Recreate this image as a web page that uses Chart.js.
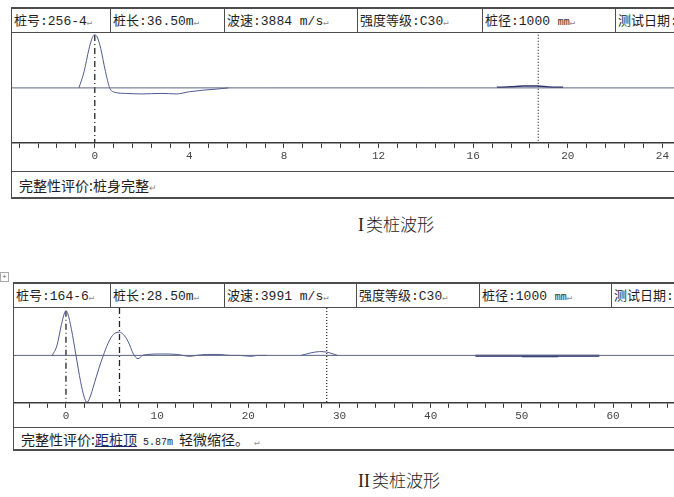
<!DOCTYPE html>
<html>
<head>
<meta charset="utf-8">
<script src="https://cdn.jsdelivr.net/npm/chart.js@4/dist/chart.umd.min.js"></script>
<style>
  html, body { margin: 0; padding: 0; background: #fff; }
  body { width: 674px; height: 497px; position: relative; overflow: hidden;
         font-family: "Liberation Mono", "Noto Sans CJK SC", monospace; color: #1e1e1e; }
  .h { position: absolute; background: #4d4d4d; height: 1px; }
  .v { position: absolute; background: #4d4d4d; width: 1px; }
  .cell { position: absolute; font-size: 13px; line-height: 18px; white-space: nowrap; }
  .cn { font-family: "Noto Sans CJK SC", sans-serif; }
  .ev { font-size: 14px; }
  .ret { color: #8a8a8a; font-size: 9px; }
  .cap { position: absolute; font-family: "Noto Sans CJK SC", sans-serif; font-weight: 300;
         font-size: 17px; color: #222; white-space: nowrap; }
  .rn { font-family: "Liberation Serif", serif; font-size: 18px; font-weight: 400; margin-right: 2px; }
  canvas { position: absolute; }
  .u { text-decoration: underline; color: #1d2a66; }
  .small { font-size: 10px; }
</style>
</head>
<body>

<!-- panel 1 frame -->
<div class="h" style="left:11px;top:7px;width:663px;height:2px"></div>
<div class="h" style="left:11px;top:32px;width:663px"></div>
<div class="h" style="left:11px;top:171px;width:663px"></div>
<div class="h" style="left:11px;top:197px;width:663px;height:2px"></div>
<div class="v" style="left:11px;top:7px;height:192px"></div>
<div class="v" style="left:110px;top:7px;height:26px"></div>
<div class="v" style="left:224px;top:7px;height:26px"></div>
<div class="v" style="left:357px;top:7px;height:26px"></div>
<div class="v" style="left:482px;top:7px;height:26px"></div>
<div class="v" style="left:615px;top:7px;height:26px"></div>
<div class="cell" style="left:14px;top:11px"><span class="cn">桩号</span>:256-4<span class="ret">↵</span></div>
<div class="cell" style="left:113px;top:11px"><span class="cn">桩长</span>:36.50m<span class="ret">↵</span></div>
<div class="cell" style="left:227px;top:11px"><span class="cn">波速</span>:3884 m/s<span class="ret">↵</span></div>
<div class="cell" style="left:360px;top:11px"><span class="cn">强度等级</span>:C30<span class="ret">↵</span></div>
<div class="cell" style="left:485px;top:11px"><span class="cn">桩径</span>:1000 <span class="small">mm</span><span class="ret">↵</span></div>
<div class="cell" style="left:618px;top:11px"><span class="cn">测试日期</span>:</div>
<div class="cell cn ev" style="left:19px;top:176px">完整性评价:桩身完整<span class="ret">↵</span></div>
<canvas id="c1" width="662" height="138" style="left:12px;top:33px;width:662px;height:138px"></canvas>
<div class="cap" style="left:358px;top:211px"><span class="rn">I</span>类桩波形</div>

<!-- table handle -->
<div style="position:absolute;left:0;top:272px;width:7px;height:8px;border:1px solid #aaa;font-size:8px;line-height:8px;color:#666;text-align:center">+</div>

<!-- panel 2 frame -->
<div class="h" style="left:13px;top:282px;width:661px;height:2px"></div>
<div class="h" style="left:13px;top:307px;width:661px"></div>
<div class="h" style="left:13px;top:427px;width:661px"></div>
<div class="h" style="left:13px;top:449px;width:661px;height:2px"></div>
<div class="v" style="left:13px;top:282px;height:169px"></div>
<div class="v" style="left:110px;top:282px;height:26px"></div>
<div class="v" style="left:224px;top:282px;height:26px"></div>
<div class="v" style="left:356px;top:282px;height:26px"></div>
<div class="v" style="left:479px;top:282px;height:26px"></div>
<div class="v" style="left:611px;top:282px;height:26px"></div>
<div class="cell" style="left:16px;top:286px"><span class="cn">桩号</span>:164-6<span class="ret">↵</span></div>
<div class="cell" style="left:113px;top:286px"><span class="cn">桩长</span>:28.50m<span class="ret">↵</span></div>
<div class="cell" style="left:227px;top:286px"><span class="cn">波速</span>:3991 m/s<span class="ret">↵</span></div>
<div class="cell" style="left:359px;top:286px"><span class="cn">强度等级</span>:C30<span class="ret">↵</span></div>
<div class="cell" style="left:482px;top:286px"><span class="cn">桩径</span>:1000 <span class="small">mm</span><span class="ret">↵</span></div>
<div class="cell" style="left:614px;top:286px"><span class="cn">测试日期</span>:</div>
<div class="cell ev" style="left:21px;top:430px"><span class="cn">完整性评价:</span><span class="cn u">距桩顶</span><span class="small"> 5.87m </span><span class="cn">轻微缩径。</span><span class="ret"> ↵</span></div>
<canvas id="c2" width="660" height="119" style="left:14px;top:308px;width:660px;height:119px"></canvas>
<div class="cap" style="left:358px;top:467px"><span class="rn">II</span>类桩波形</div>

<script>
// ---- 256-4 (I类) ----
const wave1X = [-0.67, -0.45, -0.25, -0.1, 0, 0.1, 0.25, 0.45, 0.63, 0.85, 1.3, 2.0, 2.8, 3.45, 4.0, 4.6, 5.2, 5.65];
const wave1Y = [0, 0.3, 0.7, 0.92, 0.965, 0.93, 0.72, 0.3, 0.0, -0.08, -0.1, -0.11, -0.1, -0.11, -0.07, -0.04, -0.02, 0];
const blip1X = [17.0, 17.6, 18.1, 18.7, 19.2, 19.8];
const blip1Y = [0.01, 0.02, 0.035, 0.035, 0.015, 0.01];
const dash1X = [0];
const dash1Top = [0.965];
const dot1X = [18.75];
const dot1Top = [0.97];
const ticks1Labels = [0, 4, 8, 12, 16, 20, 24];
const ticks1Step = 0.8;
const range1 = [-3.50, 24.49];

// ---- 164-6 (II类) ----
const wave2X = [-1.5, -1.0, -0.5, -0.15, 0, 0.2, 0.6, 1.1, 1.6, 2.0, 2.3, 2.6, 3.1, 3.6, 4.1, 4.6, 5.1, 5.5, 5.87,
                6.3, 6.8, 7.4, 7.9, 8.4, 9.0, 10.5, 12.2, 12.8, 13.6, 14.3, 15.5, 16.8, 18.0, 19.0, 20.3, 21.0, 22.0];
const wave2Y = [0, 0.2, 0.65, 0.9, 0.94, 0.88, 0.55, 0, -0.55, -0.88, -0.99, -0.9, -0.6, -0.28, 0, 0.25, 0.42, 0.48, 0.49,
                0.44, 0.3, 0.03, -0.07, 0, 0.02, 0.03, 0.02, 0, -0.02, 0, 0.02, 0.02, 0, 0, -0.02, 0, 0];
const bump2X = [25.8, 26.8, 27.8, 28.6, 29.3, 29.8];
const bump2Y = [0, 0.05, 0.08, 0.07, 0.03, 0];
const flat2X = [44.9, 58.5];
const flat2Y = [-0.01, -0.01];
const mid2X = [50, 54];
const mid2Y = [-0.02, -0.02];
const dash2X = [0, 5.87];
const dash2Top = [0.94, 1.0];
const dot2X = [28.6];
const dot2Top = [1.0];
const ticks2Labels = [0, 10, 20, 30, 40, 50, 60];
const ticks2Step = 2;
const range2 = [-5.70, 66.69];

const WAVE = '#4d5a92';
const BASE = '#5c6682';

function pts(xs, ys) {
    return xs.map((x, i) => ({ x: x, y: ys[i] }));
}

function vline(x, top, dash, width) {
    return {
        data: [{ x: x, y: top }, { x: x, y: -1 }],
        borderColor: '#222',
        borderWidth: width,
        borderDash: dash,
        pointRadius: 0,
        tension: 0
    };
}

function line(data, color, width) {
    return {
        data: data,
        borderColor: color,
        borderWidth: width,
        pointRadius: 0,
        cubicInterpolationMode: 'monotone',
        fill: false
    };
}

function makeChart(id, datasets, range, step, labels, padBottom) {
    const tickVals = [];
    const first = Math.ceil(range[0] / step);
    const last = Math.floor(range[1] / step);
    for (let k = first; k <= last; k++) tickVals.push(Math.round(k * step * 100) / 100);

    return new Chart(document.getElementById(id), {
        type: 'line',
        data: { datasets: datasets },
        options: {
            responsive: false,
            animation: false,
            layout: { padding: { left: 0, right: 0, top: 0, bottom: padBottom } },
            plugins: { legend: { display: false }, tooltip: { enabled: false } },
            scales: {
                x: {
                    type: 'linear',
                    min: range[0],
                    max: range[1],
                    afterBuildTicks: axis => { axis.ticks = tickVals.map(v => ({ value: v })); },
                    ticks: {
                        autoSkip: false,
                        maxRotation: 0,
                        padding: 2,
                        color: '#444',
                        font: { family: 'Liberation Mono', size: 11 },
                        callback: v => labels.includes(Math.round(v * 100) / 100) ? String(Math.round(v)) : ''
                    },
                    grid: { drawOnChartArea: false, drawTicks: true, tickLength: 5, color: '#333', lineWidth: 1 },
                    border: { color: '#3a3a3a', width: 1.5 }
                },
                y: { display: false, min: -1, max: 1 }
            }
        }
    });
}

makeChart('c1', [
    line(pts(range1, [0, 0]), BASE, 1),
    line(pts(wave1X, wave1Y), WAVE, 1),
    line(pts(blip1X, blip1Y), '#2b326e', 1.5),
    vline(dash1X[0], dash1Top[0], [6, 3, 1, 3], 1.3),
    vline(dot1X[0], dot1Top[0], [1, 2], 1.2)
], range1, ticks1Step, ticks1Labels, 6);

makeChart('c2', [
    line(pts(range2, [0, 0]), BASE, 1),
    line(pts(wave2X, wave2Y), WAVE, 1),
    line(pts(bump2X, bump2Y), WAVE, 1),
    line(pts(flat2X, flat2Y), '#1f2766', 2),
    line(pts(mid2X, mid2Y), '#8a90b0', 2.5),
    vline(dash2X[0], dash2Top[0], [6, 3, 1, 3], 1.3),
    vline(dash2X[1], dash2Top[1], [6, 3, 1, 3], 1.3),
    vline(dot2X[0], dot2Top[0], [1, 2], 1.2)
], range2, ticks2Step, ticks2Labels, 2);
</script>
</body>
</html>
